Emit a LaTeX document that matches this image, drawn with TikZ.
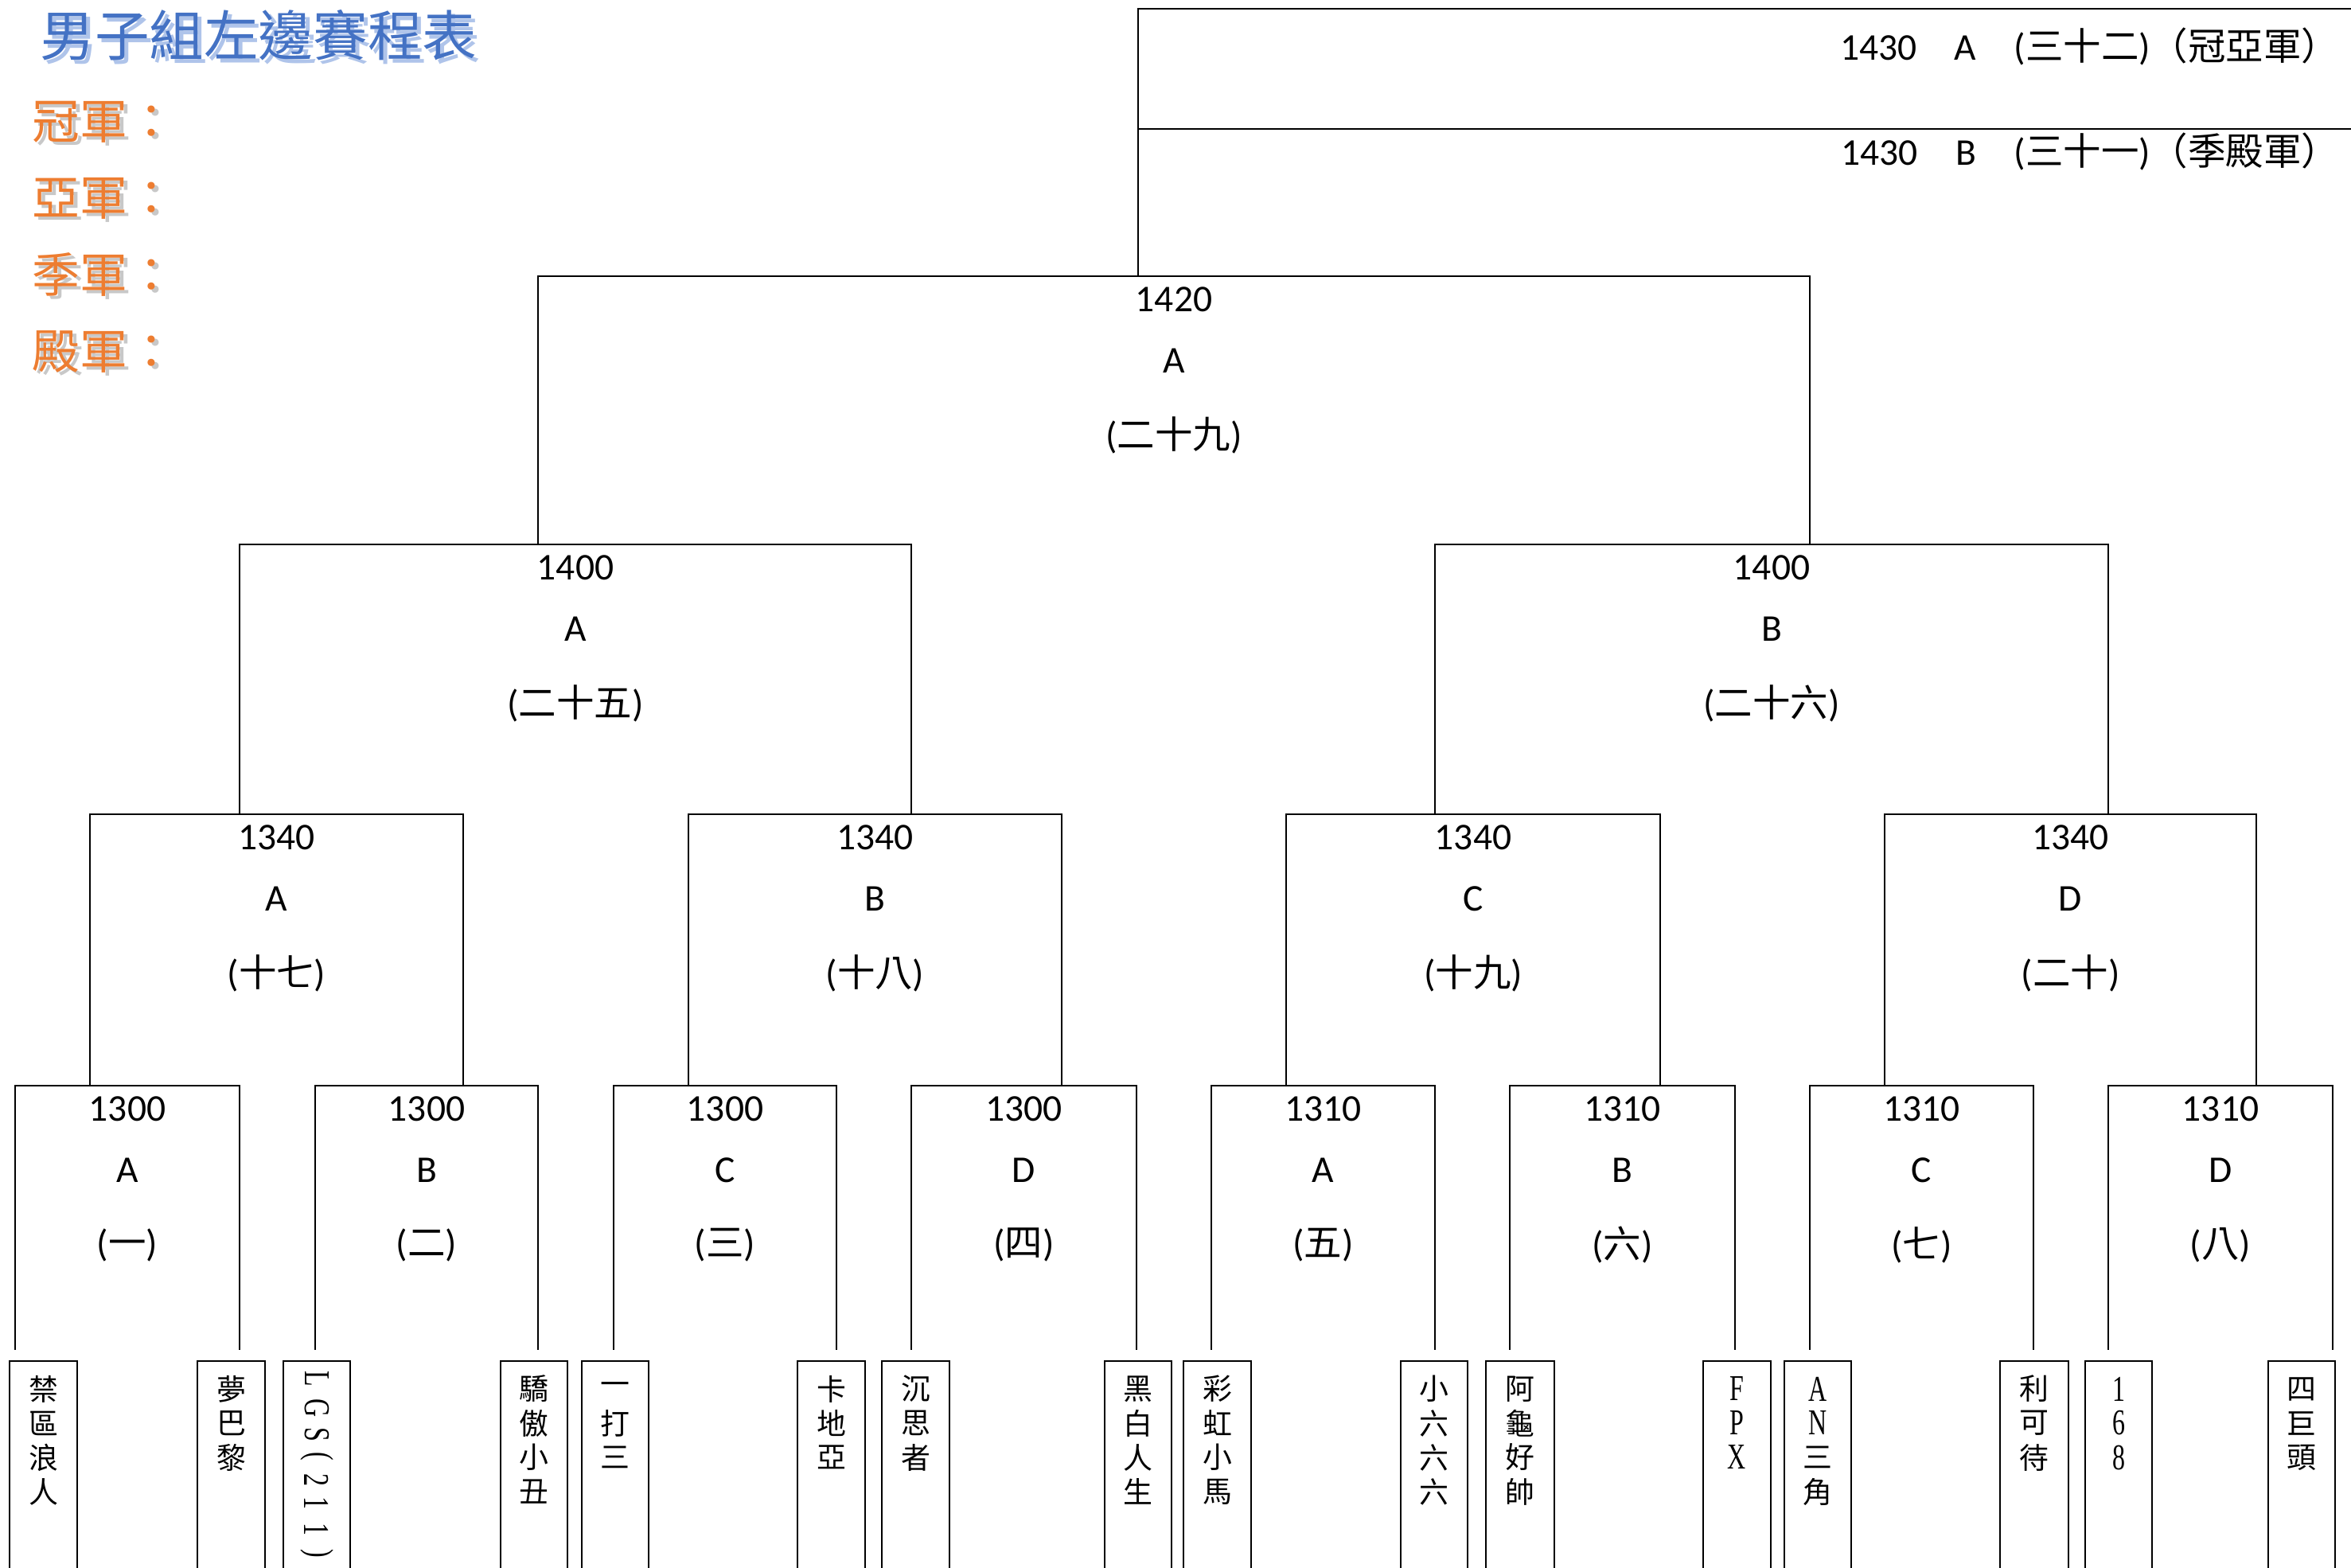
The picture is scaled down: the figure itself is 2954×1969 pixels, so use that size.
\documentclass[tikz,border=0pt]{standalone}
\usepackage{fontspec}
\setmainfont{Carlito}
\newfontfamily\cjk{Noto Sans CJK TC}
\newfontfamily\nserif{Liberation Serif}[FakeStretch=0.7]
\newcommand\latc{\nserif\fontsize{13}{15}\selectfont}
\definecolor{tblue}{HTML}{4472C4}
\definecolor{tblueshadow}{HTML}{AFC4EA}
\definecolor{torange}{HTML}{ED7D31}
\definecolor{toshadow}{HTML}{C8C8C8}
\newcommand\mybr[8]{%
  \coordinate (#1-tl) at (#2,#4);
  \coordinate (#1-tr) at (#3,#4);
  \coordinate (#1-bl) at (#2,#5);
  \coordinate (#1-br) at (#3,#5);
  \draw[brline] (#1-bl) -- (#1-tl) -- (#1-tr) -- (#1-br);
  \node[lbl] (#1-a) at ({(#2+#3)/2},{#4+29}) {#6};
  \node[lbl] (#1-b) at ({(#2+#3)/2},{#4+106}) {#7};
  \node[lbl] (#1-c) at ({(#2+#3)/2},{#4+200}) {#8};
}
\newcommand\myteambox[3]{%
  \coordinate (#1-tl) at (#2,1710);
  \coordinate (#1-tr) at (#3,1710);
  \coordinate (#1-bl) at (#2,1995);
  \coordinate (#1-br) at (#3,1995);
  \draw[tmline] (#1-bl) -- (#1-tl) -- (#1-tr) -- (#1-br);
}
\newcommand\myteam[4]{%
  \myteambox{#1}{#2}{#3}
  \foreach \c [count=\i] in {#4} {
    \node[tch] (#1-\i) at ({(#2+#3)/2},{1745+43*(\i-1)}) {\c};
  }
}
\begin{document}
\begin{tikzpicture}[x=0.01cm,y=-0.01cm,
  brline/.style={line width=0.6pt},
  tmline/.style={line width=0.55pt},
  lbl/.style={font=\fontsize{13.5}{16}\selectfont, inner sep=0pt},
  tch/.style={font=\cjk\fontsize{10.5}{12}\selectfont, inner sep=0pt},
  lat/.style={font=\latc, inner sep=0pt},
  titletxt/.style={font=\cjk\fontsize{19.5}{22}\selectfont, text=tblue, inner sep=0pt},
  titlesh/.style={font=\cjk\fontsize{19.5}{22}\selectfont, text=tblueshadow, inner sep=0pt},
  awd/.style={font=\cjk\fontsize{17}{20}\selectfont, text=torange, inner sep=0pt, anchor=west},
  awdsh/.style={font=\cjk\fontsize{17}{20}\selectfont, text=toshadow, inner sep=0pt, anchor=west}]
\useasboundingbox (0,0) rectangle (2954,1969);
\clip (0,0) rectangle (2954,1969);
\fill[white] (0,0) rectangle (2954,1969);

% title and award labels
\node[titlesh] (titleshadow) at (330,49) {男子組左邊賽程表};
\node[titletxt] (title) at (325,44) {男子組左邊賽程表};
\node[awdsh] (w1s) at (45,157) {冠軍：};
\node[awd] (w1) at (40,153) {冠軍：};
\node[awdsh] (w2s) at (45,253) {亞軍：};
\node[awd] (w2) at (40,249) {亞軍：};
\node[awdsh] (w3s) at (45,349) {季軍：};
\node[awd] (w3) at (40,345) {季軍：};
\node[awdsh] (w4s) at (45,446) {殿軍：};
\node[awd] (w4) at (40,442) {殿軍：};

% final
\coordinate (g-b) at (1430,347);
\coordinate (g-t) at (1430,11);
\coordinate (g-r1) at (2965,11);
\coordinate (g-m) at (1430,162);
\coordinate (g-r2) at (2965,162);
\draw[brline] (g-b) -- (g-t) -- (g-r1);
\draw[brline] (g-m) -- (g-r2);
\node[lbl, anchor=east] (fin1) at (2940,58) {1430\hspace{1em}A\hspace{1em}({\cjk 三十二}){\cjk （冠亞軍）}};
\node[lbl, anchor=east] (fin2) at (2940,190) {1430\hspace{1em}B\hspace{1em}({\cjk 三十一}){\cjk （季殿軍）}};

% brackets
\mybr{f}{676}{2274}{347}{684}{1420}{A}{({\cjk 二十九})}
\mybr{sA}{301}{1145}{684}{1023}{1400}{A}{({\cjk 二十五})}
\mybr{sB}{1803}{2649}{684}{1023}{1400}{B}{({\cjk 二十六})}
\mybr{qA}{113}{582}{1023}{1364}{1340}{A}{({\cjk 十七})}
\mybr{qB}{865}{1334}{1023}{1364}{1340}{B}{({\cjk 十八})}
\mybr{qC}{1616}{2086}{1023}{1364}{1340}{C}{({\cjk 十九})}
\mybr{qD}{2368}{2835}{1023}{1364}{1340}{D}{({\cjk 二十})}
\mybr{rA}{19}{301}{1364}{1696}{1300}{A}{({\cjk 一})}
\mybr{rB}{396}{676}{1364}{1696}{1300}{B}{({\cjk 二})}
\mybr{rC}{771}{1051}{1364}{1696}{1300}{C}{({\cjk 三})}
\mybr{rD}{1145}{1428}{1364}{1696}{1300}{D}{({\cjk 四})}
\mybr{rE}{1522}{1803}{1364}{1696}{1310}{A}{({\cjk 五})}
\mybr{rF}{1897}{2180}{1364}{1696}{1310}{B}{({\cjk 六})}
\mybr{rG}{2274}{2555}{1364}{1696}{1310}{C}{({\cjk 七})}
\mybr{rH}{2649}{2931}{1364}{1696}{1310}{D}{({\cjk 八})}

% teams
\myteam{t1}{12}{97}{禁,區,浪,人}
\myteam{t2}{248}{333}{夢,巴,黎}
\myteambox{t3}{356}{440}
\node[lat, rotate=-90] (t3-1) at (398,1732) {L};
\node[lat, rotate=-90] (t3-2) at (398,1769) {G};
\node[lat, rotate=-90] (t3-3) at (398,1802) {S};
\node[lat, rotate=-90] (t3-4) at (398,1830) {(};
\node[lat, rotate=-90] (t3-5) at (398,1859) {2};
\node[lat, rotate=-90] (t3-6) at (398,1888) {1};
\node[lat, rotate=-90] (t3-7) at (398,1921) {1};
\node[lat, rotate=-90] (t3-8) at (398,1952) {)};
\myteam{t4}{629}{713}{驕,傲,小,丑}
\myteam{t5}{731}{815}{一,打,三}
\myteam{t6}{1002}{1087}{卡,地,亞}
\myteam{t7}{1108}{1193}{沉,思,者}
\myteam{t8}{1388}{1472}{黑,白,人,生}
\myteam{t9}{1487}{1572}{彩,虹,小,馬}
\myteam{t10}{1760}{1844}{小,六,六,六}
\myteam{t11}{1867}{1953}{阿,龜,好,帥}
\myteam{t12}{2140}{2225}{{\latc F},{\latc P},{\latc X}}
\myteam{t13}{2242}{2326}{{\latc A},{\latc N},三,角}
\myteam{t14}{2513}{2599}{利,可,待}
\myteam{t15}{2620}{2704}{{\latc 1},{\latc 6},{\latc 8}}
\myteam{t16}{2850}{2934}{四,巨,頭}
\end{tikzpicture}
\end{document}
